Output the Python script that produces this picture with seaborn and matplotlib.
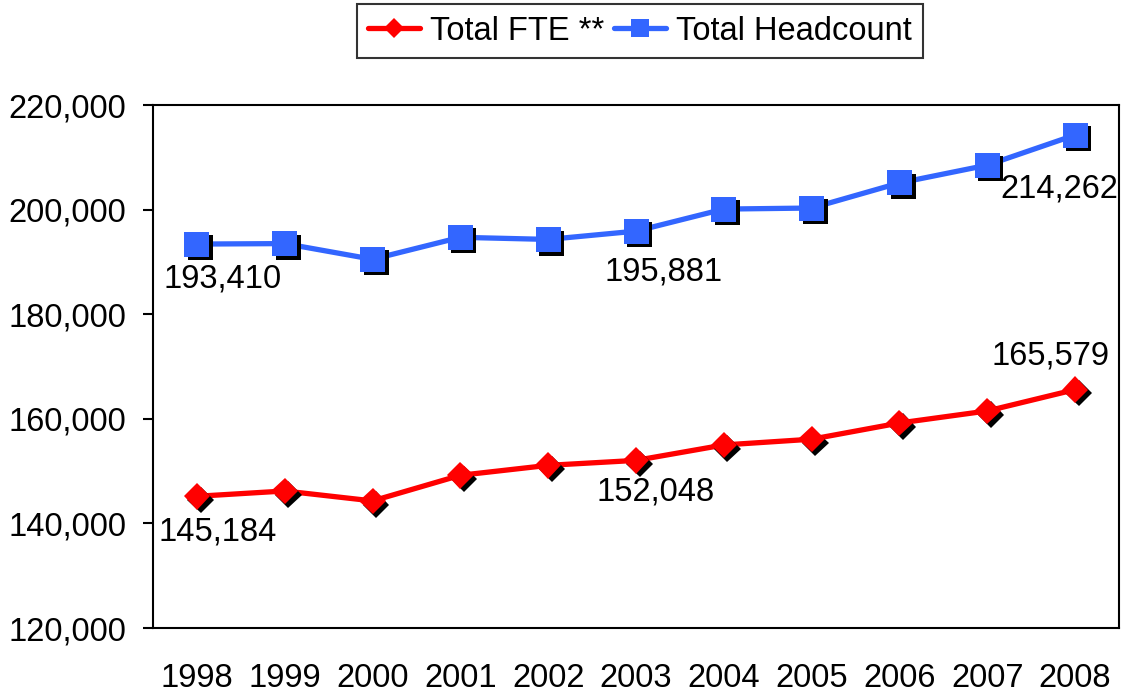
import numpy as np
import pandas as pd
import matplotlib
matplotlib.use("Agg")
import matplotlib.pyplot as plt
import matplotlib.patheffects as pe
from matplotlib.lines import Line2D
from matplotlib.ticker import StrMethodFormatter, FixedLocator
import seaborn as sns

# data
years = ["1998", "1999", "2000", "2001", "2002", "2003", "2004", "2005", "2006", "2007", "2008"]
fte = [145184, 146200, 144300, 149200, 151100, 152048, 155000, 156100, 159200, 161500, 165579]
headcount = [193410, 193500, 190500, 194700, 194300, 195881, 200100, 200300, 205100, 208500, 214262]
y_ticks = [120000, 140000, 160000, 180000, 200000, 220000]

# which points get a value label, and the label offset in pixels
fte_labels = {0: (21, -36), 5: (20, -32), 10: (-25, 34)}
head_labels = {0: (26, -35), 5: (28, -41), 10: (-16, -54)}

sns.set_style("white")
plt.rcParams["font.family"] = ["Liberation Sans", "DejaVu Sans"]
plt.rcParams["text.color"] = "black"
fs = 23.5

df = pd.DataFrame({
    "pos": list(range(len(years))) * 2,
    "value": fte + headcount,
    "series": ["Total FTE **"] * len(years) + ["Total Headcount"] * len(years),
})
colors = {"Total FTE **": "#FF0000", "Total Headcount": "#3366FF"}
markers = {"Total FTE **": ("D", 13.5), "Total Headcount": ("s", 18)}

fig = plt.figure(figsize=(11.21, 6.94), dpi=100)
ax = fig.add_axes([153 / 1121, 1 - 628 / 694, (1119 - 153) / 1121, (628 - 105) / 694])

sns.lineplot(data=df, x="pos", y="value", hue="series", palette=colors,
             linewidth=3.8, legend=False, ax=ax, zorder=2)

shadow = [pe.SimplePatchShadow(offset=(2.6, -2.6), shadow_rgbFace="black", alpha=1), pe.Normal()]
for name, sub in df.groupby("series"):
    m, ms = markers[name]
    ax.plot(sub["pos"], sub["value"], linestyle="none", marker=m, markersize=ms,
            color=colors[name], markeredgewidth=0, path_effects=shadow, zorder=3)

for vals, labs in ((fte, fte_labels), (headcount, head_labels)):
    for i, (dx, dy) in labs.items():
        ax.annotate(f"{vals[i]:,}", (i, vals[i]), xytext=(dx, dy), textcoords="offset pixels",
                    ha="center", va="center", fontsize=fs, color="black", zorder=4)

ax.set_xlim(-0.5, len(years) - 0.5)
ax.set_ylim(120000, 220000)
ax.yaxis.set_major_locator(FixedLocator(y_ticks))
ax.yaxis.set_major_formatter(StrMethodFormatter("{x:,.0f}"))
ax.set_xticks(range(len(years)))
ax.set_xticklabels(years)
ax.xaxis.set_minor_locator(FixedLocator(np.arange(-0.5, len(years), 1.0)))
ax.tick_params(axis="x", which="major", length=0, pad=25, labelsize=fs, labelcolor="black")
ax.tick_params(axis="x", which="minor", length=7, width=1.5, direction="out", color="black")
ax.tick_params(axis="y", which="major", length=7, width=1.5, direction="out", pad=12,
               labelsize=fs, color="black", labelcolor="black", left=True)
ax.set_xlabel("")
ax.set_ylabel("")
for s in ax.spines.values():
    s.set_visible(True)
    s.set_color("black")
    s.set_linewidth(1.5)

handles = [Line2D([], [], color=colors["Total FTE **"], lw=3.8, marker="D", markersize=10, markeredgewidth=0),
           Line2D([], [], color=colors["Total Headcount"], lw=3.8, marker="s", markersize=13.5, markeredgewidth=0)]
leg = fig.legend(handles, list(colors.keys()), loc="center", bbox_to_anchor=(640 / 1121, 1 - 31 / 694),
                 ncol=2, fontsize=fs, frameon=True, fancybox=False, edgecolor="black",
                 handlelength=1.6, handletextpad=0.3, columnspacing=0.3, borderpad=0.35,
                 borderaxespad=0)
leg.get_frame().set_linewidth(1.5)

fig.savefig("out.png", dpi=100)
